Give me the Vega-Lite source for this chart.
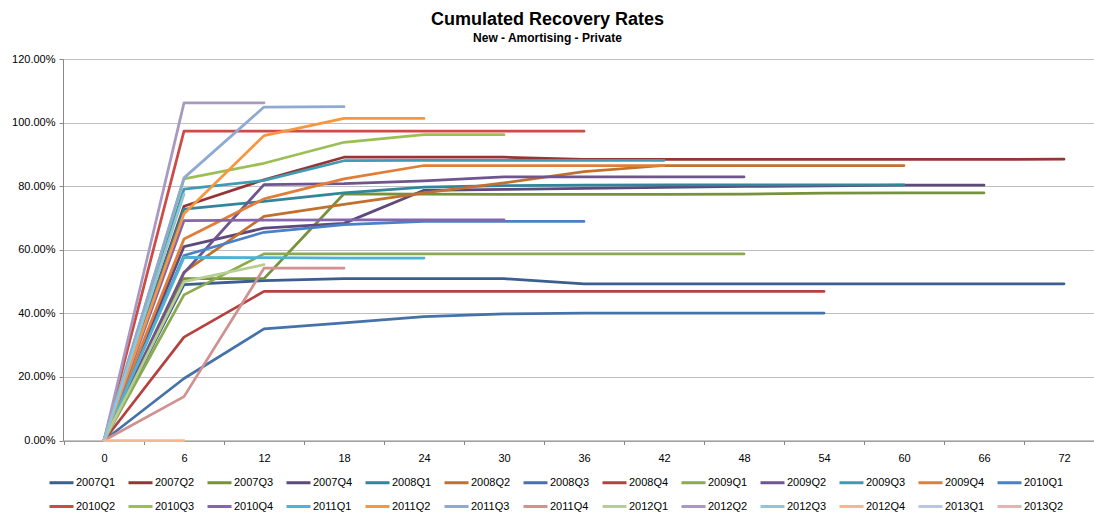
{
  "$schema": "https://vega.github.io/schema/vega-lite/v6.json",
  "width": 1031,
  "height": 381.5,
  "autosize": {"type": "none"},
  "padding": {"left": 63, "top": 59, "right": 0, "bottom": 73.5},
  "background": "white",
  "title": {
    "text": "Cumulated Recovery Rates",
    "subtitle": "New - Amortising - Private",
    "font": "Liberation Sans",
    "fontSize": 18,
    "fontWeight": "bold",
    "color": "#000000",
    "subtitleFont": "Liberation Sans",
    "subtitleFontSize": 12,
    "subtitleFontWeight": "bold",
    "subtitleColor": "#000000",
    "subtitlePadding": 4,
    "anchor": "middle",
    "frame": "group",
    "dx": -31,
    "offset": 9
  },
  "config": {"view": {"stroke": null}, "font": "Liberation Sans"},
  "datasets": {
    "rates": [
      {"cohort":"2007Q1","month":0,"rate":0},{"cohort":"2007Q1","month":6,"rate":0.490},{"cohort":"2007Q1","month":12,"rate":0.503},{"cohort":"2007Q1","month":18,"rate":0.509},{"cohort":"2007Q1","month":24,"rate":0.509},{"cohort":"2007Q1","month":30,"rate":0.509},{"cohort":"2007Q1","month":36,"rate":0.493},{"cohort":"2007Q1","month":42,"rate":0.493},{"cohort":"2007Q1","month":48,"rate":0.493},{"cohort":"2007Q1","month":54,"rate":0.493},{"cohort":"2007Q1","month":60,"rate":0.493},{"cohort":"2007Q1","month":66,"rate":0.493},{"cohort":"2007Q1","month":72,"rate":0.493},
      {"cohort":"2007Q2","month":0,"rate":0},{"cohort":"2007Q2","month":6,"rate":0.737},{"cohort":"2007Q2","month":12,"rate":0.820},{"cohort":"2007Q2","month":18,"rate":0.891},{"cohort":"2007Q2","month":24,"rate":0.891},{"cohort":"2007Q2","month":30,"rate":0.891},{"cohort":"2007Q2","month":36,"rate":0.884},{"cohort":"2007Q2","month":42,"rate":0.884},{"cohort":"2007Q2","month":48,"rate":0.884},{"cohort":"2007Q2","month":54,"rate":0.884},{"cohort":"2007Q2","month":60,"rate":0.884},{"cohort":"2007Q2","month":66,"rate":0.884},{"cohort":"2007Q2","month":72,"rate":0.885},
      {"cohort":"2007Q3","month":0,"rate":0},{"cohort":"2007Q3","month":6,"rate":0.509},{"cohort":"2007Q3","month":12,"rate":0.509},{"cohort":"2007Q3","month":18,"rate":0.776},{"cohort":"2007Q3","month":24,"rate":0.775},{"cohort":"2007Q3","month":30,"rate":0.774},{"cohort":"2007Q3","month":36,"rate":0.774},{"cohort":"2007Q3","month":42,"rate":0.774},{"cohort":"2007Q3","month":48,"rate":0.775},{"cohort":"2007Q3","month":54,"rate":0.778},{"cohort":"2007Q3","month":60,"rate":0.779},{"cohort":"2007Q3","month":66,"rate":0.779},
      {"cohort":"2007Q4","month":0,"rate":0},{"cohort":"2007Q4","month":6,"rate":0.610},{"cohort":"2007Q4","month":12,"rate":0.668},{"cohort":"2007Q4","month":18,"rate":0.683},{"cohort":"2007Q4","month":24,"rate":0.787},{"cohort":"2007Q4","month":30,"rate":0.790},{"cohort":"2007Q4","month":36,"rate":0.793},{"cohort":"2007Q4","month":42,"rate":0.796},{"cohort":"2007Q4","month":48,"rate":0.799},{"cohort":"2007Q4","month":54,"rate":0.801},{"cohort":"2007Q4","month":60,"rate":0.803},{"cohort":"2007Q4","month":66,"rate":0.803},
      {"cohort":"2008Q1","month":0,"rate":0},{"cohort":"2008Q1","month":6,"rate":0.728},{"cohort":"2008Q1","month":12,"rate":0.752},{"cohort":"2008Q1","month":18,"rate":0.779},{"cohort":"2008Q1","month":24,"rate":0.797},{"cohort":"2008Q1","month":30,"rate":0.802},{"cohort":"2008Q1","month":36,"rate":0.803},{"cohort":"2008Q1","month":42,"rate":0.804},{"cohort":"2008Q1","month":48,"rate":0.804},{"cohort":"2008Q1","month":54,"rate":0.804},{"cohort":"2008Q1","month":60,"rate":0.804},
      {"cohort":"2008Q2","month":0,"rate":0},{"cohort":"2008Q2","month":6,"rate":0.530},{"cohort":"2008Q2","month":12,"rate":0.705},{"cohort":"2008Q2","month":18,"rate":0.743},{"cohort":"2008Q2","month":24,"rate":0.779},{"cohort":"2008Q2","month":30,"rate":0.810},{"cohort":"2008Q2","month":36,"rate":0.846},{"cohort":"2008Q2","month":42,"rate":0.865},{"cohort":"2008Q2","month":48,"rate":0.865},{"cohort":"2008Q2","month":54,"rate":0.865},{"cohort":"2008Q2","month":60,"rate":0.865},
      {"cohort":"2008Q3","month":0,"rate":0},{"cohort":"2008Q3","month":6,"rate":0.195},{"cohort":"2008Q3","month":12,"rate":0.351},{"cohort":"2008Q3","month":18,"rate":0.370},{"cohort":"2008Q3","month":24,"rate":0.390},{"cohort":"2008Q3","month":30,"rate":0.398},{"cohort":"2008Q3","month":36,"rate":0.401},{"cohort":"2008Q3","month":42,"rate":0.401},{"cohort":"2008Q3","month":48,"rate":0.401},{"cohort":"2008Q3","month":54,"rate":0.401},
      {"cohort":"2008Q4","month":0,"rate":0},{"cohort":"2008Q4","month":6,"rate":0.325},{"cohort":"2008Q4","month":12,"rate":0.469},{"cohort":"2008Q4","month":18,"rate":0.469},{"cohort":"2008Q4","month":24,"rate":0.469},{"cohort":"2008Q4","month":30,"rate":0.469},{"cohort":"2008Q4","month":36,"rate":0.469},{"cohort":"2008Q4","month":42,"rate":0.469},{"cohort":"2008Q4","month":48,"rate":0.469},{"cohort":"2008Q4","month":54,"rate":0.469},
      {"cohort":"2009Q1","month":0,"rate":0},{"cohort":"2009Q1","month":6,"rate":0.458},{"cohort":"2009Q1","month":12,"rate":0.587},{"cohort":"2009Q1","month":18,"rate":0.587},{"cohort":"2009Q1","month":24,"rate":0.587},{"cohort":"2009Q1","month":30,"rate":0.587},{"cohort":"2009Q1","month":36,"rate":0.587},{"cohort":"2009Q1","month":42,"rate":0.587},{"cohort":"2009Q1","month":48,"rate":0.587},
      {"cohort":"2009Q2","month":0,"rate":0},{"cohort":"2009Q2","month":6,"rate":0.527},{"cohort":"2009Q2","month":12,"rate":0.805},{"cohort":"2009Q2","month":18,"rate":0.808},{"cohort":"2009Q2","month":24,"rate":0.817},{"cohort":"2009Q2","month":30,"rate":0.829},{"cohort":"2009Q2","month":36,"rate":0.829},{"cohort":"2009Q2","month":42,"rate":0.829},{"cohort":"2009Q2","month":48,"rate":0.829},
      {"cohort":"2009Q3","month":0,"rate":0},{"cohort":"2009Q3","month":6,"rate":0.791},{"cohort":"2009Q3","month":12,"rate":0.818},{"cohort":"2009Q3","month":18,"rate":0.880},{"cohort":"2009Q3","month":24,"rate":0.881},{"cohort":"2009Q3","month":30,"rate":0.881},{"cohort":"2009Q3","month":36,"rate":0.881},{"cohort":"2009Q3","month":42,"rate":0.881},
      {"cohort":"2009Q4","month":0,"rate":0},{"cohort":"2009Q4","month":6,"rate":0.634},{"cohort":"2009Q4","month":12,"rate":0.760},{"cohort":"2009Q4","month":18,"rate":0.823},{"cohort":"2009Q4","month":24,"rate":0.865},{"cohort":"2009Q4","month":30,"rate":0.865},{"cohort":"2009Q4","month":36,"rate":0.865},{"cohort":"2009Q4","month":42,"rate":0.865},
      {"cohort":"2010Q1","month":0,"rate":0},{"cohort":"2010Q1","month":6,"rate":0.582},{"cohort":"2010Q1","month":12,"rate":0.655},{"cohort":"2010Q1","month":18,"rate":0.679},{"cohort":"2010Q1","month":24,"rate":0.689},{"cohort":"2010Q1","month":30,"rate":0.689},{"cohort":"2010Q1","month":36,"rate":0.689},
      {"cohort":"2010Q2","month":0,"rate":0},{"cohort":"2010Q2","month":6,"rate":0.973},{"cohort":"2010Q2","month":12,"rate":0.973},{"cohort":"2010Q2","month":18,"rate":0.973},{"cohort":"2010Q2","month":24,"rate":0.973},{"cohort":"2010Q2","month":30,"rate":0.973},{"cohort":"2010Q2","month":36,"rate":0.973},
      {"cohort":"2010Q3","month":0,"rate":0},{"cohort":"2010Q3","month":6,"rate":0.823},{"cohort":"2010Q3","month":12,"rate":0.872},{"cohort":"2010Q3","month":18,"rate":0.938},{"cohort":"2010Q3","month":24,"rate":0.962},{"cohort":"2010Q3","month":30,"rate":0.962},
      {"cohort":"2010Q4","month":0,"rate":0},{"cohort":"2010Q4","month":6,"rate":0.692},{"cohort":"2010Q4","month":12,"rate":0.693},{"cohort":"2010Q4","month":18,"rate":0.694},{"cohort":"2010Q4","month":24,"rate":0.694},{"cohort":"2010Q4","month":30,"rate":0.694},
      {"cohort":"2011Q1","month":0,"rate":0},{"cohort":"2011Q1","month":6,"rate":0.576},{"cohort":"2011Q1","month":12,"rate":0.575},{"cohort":"2011Q1","month":18,"rate":0.574},{"cohort":"2011Q1","month":24,"rate":0.574},
      {"cohort":"2011Q2","month":0,"rate":0},{"cohort":"2011Q2","month":6,"rate":0.713},{"cohort":"2011Q2","month":12,"rate":0.959},{"cohort":"2011Q2","month":18,"rate":1.013},{"cohort":"2011Q2","month":24,"rate":1.013},
      {"cohort":"2011Q3","month":0,"rate":0},{"cohort":"2011Q3","month":6,"rate":0.826},{"cohort":"2011Q3","month":12,"rate":1.049},{"cohort":"2011Q3","month":18,"rate":1.050},
      {"cohort":"2011Q4","month":0,"rate":0},{"cohort":"2011Q4","month":6,"rate":0.138},{"cohort":"2011Q4","month":12,"rate":0.542},{"cohort":"2011Q4","month":18,"rate":0.542},
      {"cohort":"2012Q1","month":0,"rate":0},{"cohort":"2012Q1","month":6,"rate":0.500},{"cohort":"2012Q1","month":12,"rate":0.553},
      {"cohort":"2012Q2","month":0,"rate":0},{"cohort":"2012Q2","month":6,"rate":1.062},{"cohort":"2012Q2","month":12,"rate":1.062},
      {"cohort":"2012Q3","month":0,"rate":0},{"cohort":"2012Q3","month":6,"rate":0.775},
      {"cohort":"2012Q4","month":0,"rate":0},{"cohort":"2012Q4","month":6,"rate":0},
      {"cohort":"2013Q1","month":0,"rate":0},
      {"cohort":"2013Q2","month":0,"rate":0}
    ]
  },
  "data": {"name": "rates"},
  "mark": {"type": "line", "strokeWidth": 2.75, "strokeJoin": "round", "strokeCap": "round"},
  "encoding": {
    "x": {
      "field": "month",
      "type": "quantitative",
      "scale": {"domain": [-3.075, 74.25], "nice": false, "zero": false},
      "axis": {
        "values": [0, 6, 12, 18, 24, 30, 36, 42, 48, 54, 60, 66, 72],
        "title": null,
        "grid": false,
        "tickOffset": -40,
        "labelOffset": 40,
        "tickSize": 4,
        "tickColor": "#888888",
        "domainColor": "#888888",
        "labelFontSize": 11,
        "labelColor": "#000000",
        "labelPadding": 8,
        "labelFont": "Liberation Sans"
      }
    },
    "y": {
      "field": "rate",
      "type": "quantitative",
      "scale": {"domain": [0, 1.2], "nice": false},
      "axis": {
        "values": [0, 0.2, 0.4, 0.6, 0.8, 1.0, 1.2],
        "format": ".2%",
        "title": null,
        "grid": true,
        "gridColor": "#BFBFBF",
        "gridWidth": 1.2,
        "tickSize": 4,
        "tickColor": "#888888",
        "domainColor": "#888888",
        "labelFontSize": 11,
        "labelColor": "#000000",
        "labelPadding": 4,
        "labelFont": "Liberation Sans"
      }
    },
    "color": {
      "field": "cohort",
      "type": "nominal",
      "scale": {
        "domain": ["2007Q1","2007Q2","2007Q3","2007Q4","2008Q1","2008Q2","2008Q3","2008Q4","2009Q1","2009Q2","2009Q3","2009Q4","2010Q1","2010Q2","2010Q3","2010Q4","2011Q1","2011Q2","2011Q3","2011Q4","2012Q1","2012Q2","2012Q3","2012Q4","2013Q1","2013Q2"],
        "range": ["#3A5F8E","#943634","#76923C","#5F497A","#31859C","#C0712F","#4672AA","#B5413F","#8BAA4F","#6F5590","#3E9BB3","#E07D38","#4A80C5","#CC4B47","#9CBF55","#8565AD","#4DB3D1","#F8963F","#8FA9D1","#D09190","#B7CE92","#A999C0","#8FC6D8","#F8B58E","#B9C7E2","#E4B3B2"]
      },
      "legend": {
        "orient": "none",
        "legendX": -15,
        "legendY": 410,
        "direction": "horizontal",
        "columns": 13,
        "title": null,
        "symbolType": "stroke",
        "symbolSize": 576,
        "symbolStrokeWidth": 3,
        "labelFontSize": 11,
        "labelFont": "Liberation Sans",
        "labelColor": "#000000",
        "labelOffset": 1,
        "columnPadding": 6,
        "rowPadding": 4,
        "gridAlign": "all",
        "padding": 0,
        "labelLimit": 100
      }
    }
  }
}
